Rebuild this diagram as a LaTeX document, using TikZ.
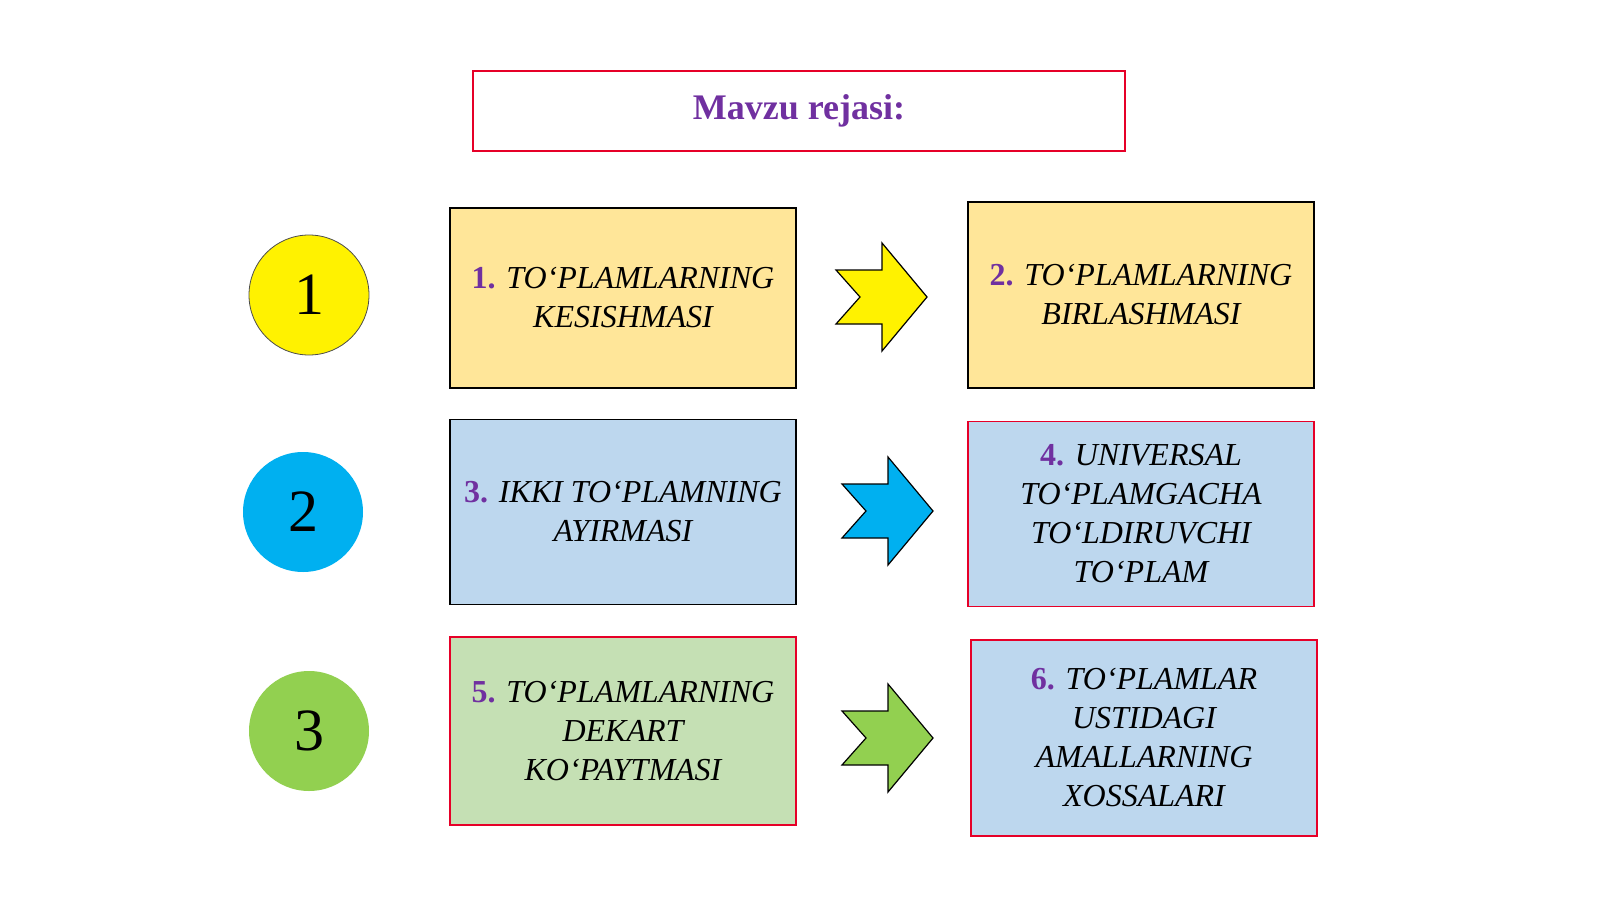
\documentclass[tikz,border=0pt]{standalone}
\usepackage{fontspec}
\setmainfont{Liberation Serif}
\begin{document}
\begin{tikzpicture}[x=0.5pt,y=-0.5pt,
 box/.style={draw=#1,line width=0.8pt,minimum width=173pt,inner sep=0pt,align=center,font=\fontsize{16}{19.5}\selectfont\itshape},
 circ/.style={circle,minimum size=60pt,inner sep=0pt,font=\fontsize{30}{30}\selectfont},
 arr/.style={draw=black,line width=0.6pt,fill=#1}]
\definecolor{purp}{RGB}{112,48,160}
\definecolor{yel}{RGB}{255,230,153}
\definecolor{blu}{RGB}{189,215,238}
\definecolor{grn}{RGB}{197,224,180}
\definecolor{cy}{RGB}{0,176,240}
\definecolor{gr}{RGB}{146,208,80}
\definecolor{rd}{RGB}{230,0,40}
\newcommand{\nm}[1]{{\upshape\bfseries\color{purp}#1}}
\useasboundingbox (0,0) rectangle (1600,899);
\node[draw=rd,line width=0.8pt,minimum width=326pt,minimum height=40pt,font=\fontsize{18}{18}\selectfont\bfseries,text=purp] (t) at (799,111) {Mavzu rejasi:};
\node[circ,draw=black!70,fill=yellow] (c1) at (309,295) {1};
\node[circ,fill=cy] (c2) at (303,512) {2};
\node[circ,fill=gr] (c3) at (309,731) {3};
\node[box=black,fill=yel,minimum height=90pt] (b1) at (623,298) {\nm{1.} TO‘PLAMLARNING\\KESISHMASI};
\node[box=black,fill=yel,minimum height=93pt] (b2) at (1141,295) {\nm{2.} TO‘PLAMLARNING\\BIRLASHMASI};
\node[box=black,fill=blu,minimum height=92.5pt] (b3) at (623,512) {\nm{3.} IKKI TO‘PLAMNING\\AYIRMASI};
\node[box=rd,fill=blu,minimum height=92.5pt] (b4) at (1141,514) {\nm{4.} UNIVERSAL\\TO‘PLAMGACHA\\TO‘LDIRUVCHI\\TO‘PLAM};
\node[box=rd,fill=grn,minimum height=94pt] (b5) at (623,731) {\nm{5.} TO‘PLAMLARNING\\DEKART\\KO‘PAYTMASI};
\node[box=rd,fill=blu,minimum height=98pt] (b6) at (1144,738) {\nm{6.} TO‘PLAMLAR\\USTIDAGI\\AMALLARNING\\XOSSALARI};
\foreach \x/\y/\c in {836/297/yellow,842/511/cy,842/738/gr}{
 \draw[arr=\c] (\x,\y-27)--(\x+46,\y-27)--(\x+46,\y-54)--(\x+91,\y)--(\x+46,\y+54)--(\x+46,\y+27)--(\x,\y+27)--(\x+24,\y)--cycle;}
\end{tikzpicture}
\end{document}
